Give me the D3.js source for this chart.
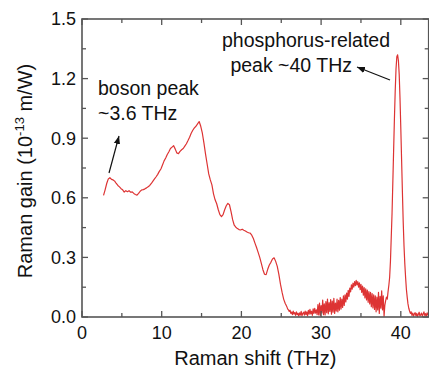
<!DOCTYPE html>
<html>
<head>
<meta charset="utf-8">
<script src="https://cdn.jsdelivr.net/npm/d3@7"></script>
<style>
  body { margin: 0; background: #fff; }
  svg { display: block; font-family: "Liberation Sans", Arial, sans-serif; }
</style>
</head>
<body>
<div id="chart"></div>
<script>
// Raman gain spectrum
const shiftTHz = [
  2.7, 2.9, 3.1, 3.3, 3.5, 3.7, 3.9, 4.1, 4.3, 4.5, 4.7, 4.9, 5.1, 5.3, 5.5, 5.7, 5.9, 6.1, 6.3, 6.5,
  6.7, 6.9, 7.1, 7.3, 7.5, 7.7, 7.9, 8.1, 8.3, 8.5, 8.7, 8.9, 9.1, 9.3, 9.5, 9.7, 9.9, 10.1, 10.3, 10.5,
  10.7, 10.9, 11.1, 11.3, 11.5, 11.7, 11.9, 12.1, 12.3, 12.5, 12.7, 12.9, 13.1, 13.3, 13.5, 13.7, 13.9, 14.1, 14.3, 14.5,
  14.7, 14.9, 15.1, 15.3, 15.5, 15.7, 15.9, 16.1, 16.3, 16.5, 16.7, 16.9, 17.1, 17.3, 17.5, 17.7, 17.9, 18.1, 18.3, 18.5,
  18.7, 18.9, 19.1, 19.3, 19.5, 19.7, 19.9, 20.1, 20.3, 20.5, 20.7, 20.9, 21.1, 21.3, 21.5, 21.7, 21.9, 22.1, 22.3, 22.5,
  22.7, 22.9, 23.1, 23.3, 23.5, 23.7, 23.9, 24.1, 24.3, 24.5, 24.7, 24.9, 25.1, 25.3, 25.5,
  25.6, 25.7, 25.8, 25.9, 26.0, 26.1, 26.2, 26.3, 26.4, 26.5, 26.6, 26.7, 26.8, 26.9, 27.0, 27.1, 27.2, 27.3, 27.4, 27.5,
  27.6, 27.7, 27.8, 27.9, 28.0, 28.1, 28.2, 28.3, 28.4, 28.5, 28.6, 28.7, 28.8, 28.9, 29.0, 29.1, 29.2, 29.3, 29.4, 29.5,
  29.6, 29.7, 29.8, 29.9, 30.0, 30.1, 30.2, 30.3, 30.4, 30.5, 30.6, 30.7, 30.8, 30.9, 31.0, 31.1, 31.2, 31.3, 31.4, 31.5,
  31.6, 31.7, 31.8, 31.9, 32.0, 32.1, 32.2, 32.3, 32.4, 32.5, 32.6, 32.7, 32.8, 32.9, 33.0, 33.1, 33.2, 33.3, 33.4, 33.5,
  33.6, 33.7, 33.8, 33.9, 34.0, 34.1, 34.2, 34.3, 34.4, 34.5, 34.6, 34.7, 34.8, 34.9, 35.0, 35.1, 35.2, 35.3, 35.4, 35.5,
  35.6, 35.7, 35.8, 35.9, 36.0, 36.1, 36.2, 36.3, 36.4, 36.5, 36.6, 36.7, 36.8, 36.9, 37.0, 37.1, 37.2, 37.3, 37.4, 37.5,
  37.6, 37.7, 37.8, 37.9, 38.0, 38.1, 38.2, 38.3, 38.4, 38.5, 38.6, 38.7, 38.8, 38.9, 39.0, 39.1, 39.2, 39.3, 39.4, 39.5,
  39.6, 39.7, 39.8, 39.9, 40.0, 40.1, 40.2, 40.3, 40.4, 40.5, 40.6, 40.7, 40.8, 40.9, 41.0, 41.1, 41.2, 41.3, 41.4, 41.5,
  41.6, 41.7, 41.8, 41.9, 42.0, 42.1, 42.2, 42.3, 42.4, 42.5, 42.6, 42.7, 42.8, 42.9, 43.0, 43.1, 43.2, 43.3, 43.4, 43.5
];
const ramanGain = [
  0.612, 0.640, 0.672, 0.695, 0.701, 0.693, 0.690, 0.684, 0.672, 0.662, 0.655, 0.646, 0.640, 0.629, 0.636, 0.631, 0.636, 0.628, 0.630, 0.622,
  0.617, 0.613, 0.622, 0.633, 0.640, 0.641, 0.645, 0.650, 0.656, 0.662, 0.672, 0.684, 0.695, 0.706, 0.718, 0.733, 0.745, 0.765, 0.786, 0.800,
  0.818, 0.832, 0.848, 0.855, 0.862, 0.845, 0.826, 0.822, 0.834, 0.842, 0.848, 0.860, 0.872, 0.888, 0.905, 0.925, 0.940, 0.952, 0.960, 0.972,
  0.984, 0.960, 0.925, 0.875, 0.820, 0.770, 0.720, 0.690, 0.665, 0.620, 0.590, 0.570, 0.540, 0.515, 0.505, 0.515, 0.540, 0.560, 0.572, 0.565,
  0.530, 0.490, 0.462, 0.452, 0.445, 0.440, 0.438, 0.442, 0.437, 0.433, 0.428, 0.424, 0.422, 0.412, 0.395, 0.372, 0.350, 0.325, 0.300, 0.270,
  0.238, 0.215, 0.213, 0.240, 0.262, 0.275, 0.292, 0.298, 0.280, 0.255, 0.215, 0.165, 0.125, 0.090, 0.068,
  0.060, 0.052, 0.041, 0.036, 0.028, 0.034, 0.018, 0.025, 0.012, 0.030, 0.015, 0.022, 0.008, 0.026, 0.012, 0.019, 0.004, 0.021, 0.010, 0.028,
  0.006, 0.018, 0.024, 0.009, 0.030, 0.012, 0.026, 0.005, 0.033, 0.014, 0.038, 0.016, 0.029, 0.008, 0.041, 0.018, 0.044, 0.020, 0.036, 0.012,
  0.062, 0.010, 0.070, 0.008, 0.058, 0.020, 0.085, 0.012, 0.066, 0.010, 0.078, 0.022, 0.090, 0.016, 0.072, 0.028, 0.088, 0.014, 0.080, 0.024,
  0.094, 0.018, 0.070, 0.030, 0.090, 0.026, 0.084, 0.034, 0.098, 0.040, 0.090, 0.048, 0.106, 0.058, 0.112, 0.076, 0.120, 0.090, 0.134, 0.104,
  0.146, 0.126, 0.162, 0.140, 0.170, 0.150, 0.178, 0.158, 0.184, 0.162, 0.178, 0.150, 0.172, 0.138, 0.164, 0.124, 0.156, 0.110, 0.148, 0.096,
  0.142, 0.086, 0.136, 0.074, 0.128, 0.066, 0.124, 0.052, 0.118, 0.046, 0.112, 0.038, 0.106, 0.026, 0.100, 0.036, 0.124, 0.018, 0.104, 0.044,
  0.132, 0.036, 0.106, 0.004, 0.060, 0.082, 0.100, 0.090, 0.128, 0.160, 0.200, 0.280, 0.400, 0.520, 0.680, 0.840, 1.000, 1.140, 1.250, 1.310,
  1.320, 1.290, 1.220, 1.100, 0.950, 0.790, 0.630, 0.480, 0.360, 0.270, 0.200, 0.140, 0.100, 0.066, 0.044, 0.030, 0.018, 0.026, 0.008, 0.020,
  0.004, 0.016, 0.022, 0.006, 0.018, 0.002, 0.014, 0.024, 0.005, 0.012, 0.020, 0.003, 0.015, 0.026, 0.008, 0.017, 0.004, 0.021, 0.010, 0.015
];
const xTicks = [0, 10, 20, 30, 40];
const xMinorTicks = [5, 15, 25, 35];
const yTicks = [0.0, 0.3, 0.6, 0.9, 1.2, 1.5];
const yMinorTicks = [0.15, 0.45, 0.75, 1.05, 1.35];

const width = 429, height = 370;
const plotLeft = 82, plotRight = 428.7, plotTop = 19, plotBottom = 317;
const lineColor = "#dd3333";
const axisColor = "#555";

const x = d3.scaleLinear().domain([0, 43.5]).range([plotLeft, plotRight]);
const y = d3.scaleLinear().domain([0, 1.5]).range([plotBottom, plotTop]);

const svg = d3.select("#chart").append("svg")
    .attr("width", width)
    .attr("height", height);

svg.append("defs").append("marker")
    .attr("id", "arrow")
    .attr("viewBox", "0 0 10 10")
    .attr("refX", 10).attr("refY", 5)
    .attr("markerWidth", 8).attr("markerHeight", 8)
    .attr("markerUnits", "userSpaceOnUse")
    .attr("orient", "auto")
    .append("path")
    .attr("d", "M0,1 L10,5 L0,9 Z")
    .attr("fill", "#111");

// data line, clipped to the frame
svg.append("clipPath").attr("id", "clip")
    .append("rect").attr("x", plotLeft).attr("y", plotTop)
    .attr("width", plotRight - plotLeft).attr("height", plotBottom - plotTop + 1);

const line = d3.line()
    .x((d, i) => x(shiftTHz[i]))
    .y(d => y(d));

svg.append("path")
    .datum(ramanGain)
    .attr("clip-path", "url(#clip)")
    .attr("d", line)
    .attr("fill", "none")
    .attr("stroke", lineColor)
    .attr("stroke-width", 1.2)
    .attr("stroke-linejoin", "round");

// frame with inward ticks on all four sides
const axes = svg.append("g").attr("stroke", axisColor);

axes.append("rect")
    .attr("x", plotLeft).attr("y", plotTop)
    .attr("width", plotRight - plotLeft).attr("height", plotBottom - plotTop)
    .attr("fill", "none")
    .attr("stroke-width", 1.6);

const xTickData = xTicks.map(v => ({ v, len: 6 })).concat(xMinorTicks.map(v => ({ v, len: 4 })));
const yTickData = yTicks.map(v => ({ v, len: 6 })).concat(yMinorTicks.map(v => ({ v, len: 4 })));

axes.selectAll(".xt-b").data(xTickData).join("line")
    .attr("x1", d => x(d.v)).attr("x2", d => x(d.v))
    .attr("y1", plotBottom).attr("y2", d => plotBottom - d.len)
    .attr("stroke-width", 1.3);
axes.selectAll(".xt-t").data(xTickData).join("line")
    .attr("x1", d => x(d.v)).attr("x2", d => x(d.v))
    .attr("y1", plotTop).attr("y2", d => plotTop + d.len)
    .attr("stroke-width", 1.3);
axes.selectAll(".yt-l").data(yTickData).join("line")
    .attr("x1", plotLeft).attr("x2", d => plotLeft + d.len)
    .attr("y1", d => y(d.v)).attr("y2", d => y(d.v))
    .attr("stroke-width", 1.3);
axes.selectAll(".yt-r").data(yTickData).join("line")
    .attr("x1", plotRight).attr("x2", d => plotRight - d.len)
    .attr("y1", d => y(d.v)).attr("y2", d => y(d.v))
    .attr("stroke-width", 1.3);

// tick labels
svg.selectAll(".xl").data(xTicks).join("text")
    .attr("x", d => x(d))
    .attr("y", 339)
    .attr("text-anchor", "middle")
    .attr("font-size", "18px")
    .attr("fill", "#111")
    .text(d => d);

svg.selectAll(".yl").data(yTicks).join("text")
    .attr("x", 76)
    .attr("y", d => y(d))
    .attr("dy", "0.35em")
    .attr("text-anchor", "end")
    .attr("font-size", "18px")
    .attr("fill", "#111")
    .text(d => d3.format(".1f")(d));

// axis titles
svg.append("text")
    .attr("x", (plotLeft + plotRight) / 2)
    .attr("y", 365)
    .attr("text-anchor", "middle")
    .attr("font-size", "20px")
    .attr("fill", "#111")
    .text("Raman shift (THz)");

const yTitle = svg.append("text")
    .attr("transform", `translate(32, ${(plotTop + plotBottom) / 2 + 3}) rotate(-90)`)
    .attr("text-anchor", "middle")
    .attr("font-size", "20px")
    .attr("fill", "#111");
yTitle.append("tspan").text("Raman gain (10");
yTitle.append("tspan").attr("font-size", "13px").attr("dy", -8).text("-13");
yTitle.append("tspan").attr("dy", 8).text(" m/W)");

// annotations
const note = svg.append("g").attr("font-size", "19.5px").attr("fill", "#111");
note.append("text").attr("x", 98).attr("y", 95).text("boson peak");
note.append("text").attr("x", 98).attr("y", 120).text("~3.6 THz");
note.append("text").attr("x", 222).attr("y", 46.5).text("phosphorus-related");
note.append("text").attr("x", 352).attr("y", 72).attr("text-anchor", "end").text("peak ~40 THz");

svg.append("line")
    .attr("x1", 109).attr("y1", 173)
    .attr("x2", 119).attr("y2", 136)
    .attr("stroke", "#111").attr("stroke-width", 1.2)
    .attr("marker-end", "url(#arrow)");

svg.append("line")
    .attr("x1", 390).attr("y1", 80)
    .attr("x2", 357).attr("y2", 67)
    .attr("stroke", "#111").attr("stroke-width", 1.2)
    .attr("marker-end", "url(#arrow)");
</script>
</body>
</html>
